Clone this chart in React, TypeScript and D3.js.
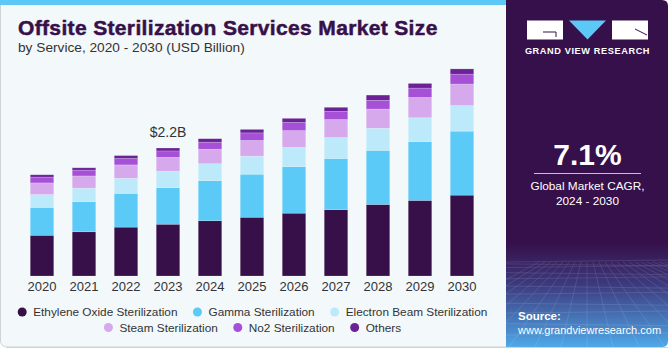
import React, { useEffect, useRef } from 'react';
import * as d3 from 'd3';

const years = ['2020', '2021', '2022', '2023', '2024', '2025', '2026', '2027', '2028', '2029', '2030'];
const ethyleneOxide = [0.70, 0.76, 0.84, 0.89, 0.95, 1.01, 1.08, 1.14, 1.23, 1.30, 1.39];
const gamma = [0.48, 0.52, 0.58, 0.63, 0.69, 0.74, 0.80, 0.88, 0.93, 1.01, 1.10];
const electronBeam = [0.22, 0.23, 0.26, 0.28, 0.29, 0.31, 0.33, 0.36, 0.38, 0.41, 0.44];
const steam = [0.20, 0.21, 0.23, 0.24, 0.25, 0.27, 0.29, 0.31, 0.33, 0.35, 0.37];
const no2 = [0.10, 0.10, 0.11, 0.11, 0.12, 0.13, 0.14, 0.14, 0.15, 0.16, 0.17];
const others = [0.04, 0.04, 0.05, 0.05, 0.06, 0.06, 0.07, 0.07, 0.09, 0.08, 0.09];

const seriesNames = [
  'Ethylene Oxide Sterilization',
  'Gamma Sterilization',
  'Electron Beam Sterilization',
  'Steam Sterilization',
  'No2 Sterilization',
  'Others',
];
const seriesColors = ['#37104a', '#5ccaf6', '#bdeafa', '#d5a9ec', '#a650d7', '#6b2297'];
const seriesValues = [ethyleneOxide, gamma, electronBeam, steam, no2, others];

const labelYear = '2023';
const labelText = '$2.2B';

const W = 671;
const H = 350;
const FONT = '"Liberation Sans", Arial, sans-serif';

const App = () => {
  const ref = useRef<SVGSVGElement | null>(null);

  useEffect(() => {
    const svg = d3.select(ref.current);
    svg.selectAll('*').remove();

    const defs = svg.append('defs');
    const grad = defs.append('linearGradient')
      .attr('id', 'panelGrad')
      .attr('x1', 0).attr('y1', 0).attr('x2', 0).attr('y2', 1);
    grad.append('stop').attr('offset', '0%').attr('stop-color', '#36104a');
    grad.append('stop').attr('offset', '70%').attr('stop-color', '#36104a');
    grad.append('stop').attr('offset', '82%').attr('stop-color', '#3c3a7e');
    grad.append('stop').attr('offset', '100%').attr('stop-color', '#4fa8e8');

    // left panel
    svg.append('rect')
      .attr('x', 0.5).attr('y', -6).attr('width', 515).attr('height', 353)
      .attr('rx', 6)
      .attr('fill', '#f3f8fb')
      .attr('stroke', '#cfd3d6');
    svg.append('rect')
      .attr('x', 0).attr('y', 0).attr('width', 510).attr('height', 5)
      .attr('fill', '#5bc8f5');

    // right panel
    svg.append('path')
      .attr('d', 'M506,0 H662 Q668,0 668,6 V341 Q668,347 662,347 H506 Z')
      .attr('fill', 'url(#panelGrad)');

    // perspective grid at the bottom of the panel
    const gridG = svg.append('g').attr('opacity', 0.18).attr('stroke', '#ffffff').attr('stroke-width', 0.6);
    const horizon = 262;
    d3.range(0, 12).forEach((i) => {
      const t = i / 11;
      const yy = horizon + Math.pow(t, 1.6) * (347 - horizon);
      gridG.append('line').attr('x1', 506).attr('x2', 668).attr('y1', yy).attr('y2', yy + (i % 2 ? 2 : -2));
    });
    d3.range(-8, 17).forEach((i) => {
      const xTop = 587 + i * 6;
      const xBot = 587 + i * 26;
      gridG.append('line').attr('x1', xTop).attr('y1', horizon).attr('x2', xBot).attr('y2', 347);
    });
    svg.append('rect')
      .attr('x', 668).attr('y', 0).attr('width', 3).attr('height', 350).attr('fill', '#ffffff');
    svg.append('rect')
      .attr('x', 0).attr('y', 347.5).attr('width', 671).attr('height', 3).attr('fill', '#ffffff');
    svg.append('line')
      .attr('x1', 6).attr('x2', 668).attr('y1', 347.5).attr('y2', 347.5)
      .attr('stroke', '#cfd3d6');

    // logo
    const logo = svg.append('g');
    logo.append('rect').attr('x', 527).attr('y', 20.5).attr('width', 36).attr('height', 19).attr('fill', '#ffffff');
    logo.append('path').attr('d', 'M543,32 H556 V37').attr('fill', 'none').attr('stroke', '#36104a').attr('stroke-width', 1);
    logo.append('path').attr('d', 'M569,20.5 H606 L587.5,39.5 Z').attr('fill', '#5bc8f5');
    logo.append('rect').attr('x', 612).attr('y', 20.5).attr('width', 36).attr('height', 19).attr('fill', '#ffffff');
    logo.append('path').attr('d', 'M635,29 L647,35').attr('fill', 'none').attr('stroke', '#36104a').attr('stroke-width', 1);
    logo.append('text')
      .attr('x', 587.5).attr('y', 54)
      .attr('text-anchor', 'middle')
      .attr('font-family', FONT).attr('font-weight', 'bold').attr('font-size', 9.2)
      .attr('letter-spacing', 0.6)
      .attr('fill', '#ffffff')
      .text('GRAND VIEW RESEARCH');

    // CAGR
    svg.append('text')
      .attr('x', 587.5).attr('y', 165)
      .attr('text-anchor', 'middle')
      .attr('font-family', FONT).attr('font-weight', 'bold').attr('font-size', 30)
      .attr('fill', '#ffffff')
      .text('7.1%');
    svg.append('line')
      .attr('x1', 534).attr('x2', 641).attr('y1', 173.5).attr('y2', 173.5)
      .attr('stroke', '#c9bfd0').attr('stroke-width', 1);
    svg.append('text')
      .attr('x', 587.5).attr('y', 190)
      .attr('text-anchor', 'middle')
      .attr('font-family', FONT).attr('font-size', 11.8)
      .attr('fill', '#ffffff')
      .text('Global Market CAGR,');
    svg.append('text')
      .attr('x', 587.5).attr('y', 205)
      .attr('text-anchor', 'middle')
      .attr('font-family', FONT).attr('font-size', 11.8)
      .attr('fill', '#ffffff')
      .text('2024 - 2030');

    // source
    svg.append('text')
      .attr('x', 518).attr('y', 320)
      .attr('font-family', FONT).attr('font-weight', 'bold').attr('font-size', 11.5)
      .attr('fill', '#ffffff')
      .text('Source:');
    svg.append('text')
      .attr('x', 518).attr('y', 334)
      .attr('font-family', FONT).attr('font-size', 11)
      .attr('fill', '#ffffff')
      .text('www.grandviewresearch.com');

    // titles
    svg.append('text')
      .attr('x', 18).attr('y', 35)
      .attr('font-family', FONT).attr('font-weight', 900).attr('font-size', 21)
      .attr('letter-spacing', 0.35)
      .attr('fill', '#37104a')
      .attr('stroke', '#37104a').attr('stroke-width', 0.5)
      .text('Offsite Sterilization Services Market Size');
    svg.append('text')
      .attr('x', 18).attr('y', 52)
      .attr('font-family', FONT).attr('font-size', 13.7)
      .attr('fill', '#333333')
      .text('by Service, 2020 - 2030 (USD Billion)');

    // chart
    const x = d3.scaleBand<string>()
      .domain(years)
      .range([21, 483])
      .paddingInner(0.44)
      .paddingOuter(0.22);
    const y = d3.scaleLinear().domain([0, 3.713]).range([276, 60]);

    const rows = years.map((yr, i) => {
      const row: Record<string, number | string> = { year: yr };
      seriesNames.forEach((n, s) => { row[n] = seriesValues[s][i]; });
      return row;
    });
    const stacked = d3.stack<Record<string, number | string>>().keys(seriesNames)(rows);

    const g = svg.append('g');
    stacked.forEach((layer, s) => {
      g.append('g')
        .attr('fill', seriesColors[s])
        .selectAll('rect')
        .data(layer)
        .enter()
        .append('rect')
        .attr('x', (d) => x(String(d.data.year)) as number)
        .attr('width', x.bandwidth())
        .attr('y', (d) => y(d[1]))
        .attr('height', (d) => y(d[0]) - y(d[1]))
        .attr('stroke', '#ffffff')
        .attr('stroke-opacity', 0.3)
        .attr('stroke-width', 0.6);
    });

    const xAxis = d3.axisBottom(x).tickSize(0).tickPadding(6);
    const ax = g.append('g').attr('transform', 'translate(0,276)').call(xAxis);
    ax.select('.domain').remove();
    ax.selectAll('text')
      .attr('font-family', FONT)
      .attr('font-size', 13)
      .attr('fill', '#333333');

    const li = years.indexOf(labelYear);
    const total = d3.sum(seriesValues, (v) => v[li]);
    g.append('text')
      .attr('x', (x(labelYear) as number) + x.bandwidth() / 2)
      .attr('y', y(total) - 11)
      .attr('text-anchor', 'middle')
      .attr('font-family', FONT).attr('font-size', 14)
      .attr('fill', '#333333')
      .text(labelText);

    // legend
    const legendRows = [
      [0, 1, 2],
      [3, 4, 5],
    ];
    legendRows.forEach((row, r) => {
      const ly = r === 0 ? 312 : 327.5;
      const lg = svg.append('g');
      let cx = 0;
      row.forEach((s) => {
        const ig = lg.append('g').attr('transform', `translate(${cx},0)`);
        ig.append('circle').attr('cx', 4.5).attr('cy', ly).attr('r', 4.5).attr('fill', seriesColors[s]);
        const t = ig.append('text')
          .attr('x', 15.5).attr('y', ly + 4.3)
          .attr('font-family', FONT).attr('font-size', 11.8)
          .attr('fill', '#333333')
          .text(seriesNames[s]);
        const tw = (t.node() as SVGTextElement).getComputedTextLength();
        cx += 15.5 + tw + 15.5;
      });
      const totalW = cx - 15.5;
      lg.attr('transform', `translate(${252.5 - totalW / 2},0)`);
    });
  }, []);

  return (
    <div style={{ position: 'fixed', left: 0, top: 0, width: W, height: H, background: '#ffffff' }}>
      <svg ref={ref} width={W} height={H} />
    </div>
  );
};

export default App;
